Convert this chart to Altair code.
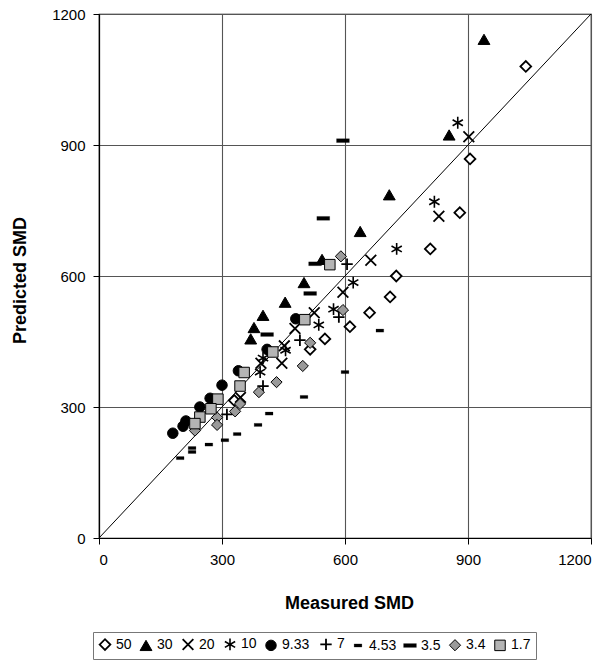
import altair as alt
import pandas as pd

series_names = ["50", "30", "20", "10", "9.33", "7", "4.53", "3.5", "3.4", "1.7"]

s50_x = [1041, 905, 880, 808, 725, 710, 660, 612, 551, 515, 330]
s50_y = [1080, 868, 745, 662, 600, 552, 516, 484, 456, 432, 315]
s30_x = [939, 854, 708, 637, 544, 500, 454, 400, 378, 370]
s30_y = [1142, 923, 786, 702, 638, 585, 540, 510, 482, 456]
s20_x = [902, 829, 663, 595, 525, 478, 452, 446, 395, 345]
s20_y = [919, 737, 636, 563, 516, 480, 440, 400, 400, 322]
s10_x = [875, 818, 726, 620, 572, 536, 455, 400, 393]
s10_y = [951, 770, 662, 585, 524, 488, 430, 412, 380]
s933_x = [180, 205, 212, 246, 271, 300, 340, 410, 480]
s933_y = [240, 256, 268, 300, 320, 350, 383, 432, 502]
s7_x = [605, 585, 490, 400, 312]
s7_y = [627, 506, 453, 348, 283]
s453_x = [198, 227, 227, 268, 307, 337, 388, 415, 500, 600, 685]
s453_y = [183, 197, 206, 214, 224, 238, 259, 285, 323, 380, 475]
s35_x = [595, 547, 527, 515, 410]
s35_y = [910, 732, 628, 560, 466]
s34_x = [590, 595, 515, 497, 433, 390, 344, 332, 288, 288, 234]
s34_y = [645, 522, 447, 394, 357, 334, 307, 290, 276, 259, 246]
s17_x = [563, 502, 424, 354, 344, 290, 273, 246, 234]
s17_y = [626, 500, 426, 379, 348, 318, 296, 277, 262]

ticks = [0, 300, 600, 900, 1200]

all_x = [s50_x, s30_x, s20_x, s10_x, s933_x, s7_x, s453_x, s35_x, s34_x, s17_x]
all_y = [s50_y, s30_y, s20_y, s10_y, s933_y, s7_y, s453_y, s35_y, s34_y, s17_y]

rows = []
for name, xs, ys in zip(series_names, all_x, all_y):
    for a, b in zip(xs, ys):
        rows.append({"series": name, "measured": a, "predicted": b})
df = pd.DataFrame(rows)
df["order"] = df["series"].map({n: i for i, n in enumerate(series_names)})

shape_range = [
    "diamond",
    "triangle-up",
    "M-1,-1L1,1M-1,1L1,-1",
    "M0,-1L0,1M-0.87,-0.5L0.87,0.5M-0.87,0.5L0.87,-0.5",
    "circle",
    "M-1,0L1,0M0,-1L0,1",
    "M-1,-0.4L1,-0.4L1,0.4L-1,0.4Z",
    "M-1,-0.3L1,-0.3L1,0.3L-1,0.3Z",
    "diamond",
    "square",
]
fill_range = ["white", "black", "none", "none", "black", "none", "black", "black", "#9a9a9a", "#b4b4b4"]
stroke_range = ["black"] * 10
size_range = [115, 140, 115, 140, 110, 130, 60, 165, 125, 110]
sw_range = [1.8, 1, 1.8, 1.6, 1, 1.8, 0.2, 0.2, 1, 1]

legend = alt.Legend(
    title=None,
    orient="none",
    legendX=-6,
    legendY=618,
    direction="horizontal",
    strokeColor="#777",
    padding=5,
    labelFont="Liberation Sans",
    labelFontSize=14,
    labelColor="black",
    labelOffset=4,
    columnPadding=6,
    symbolOpacity=1,
)

base_x = alt.X("measured:Q", scale=alt.Scale(domain=[0, 1200], nice=False),
               axis=alt.Axis(values=ticks, format="d", title="Measured SMD", titleX=250, titleY=70,
                             titleBaseline="alphabetic"))
base_y = alt.Y("predicted:Q", scale=alt.Scale(domain=[0, 1200], nice=False),
               axis=alt.Axis(values=ticks, format="d", title="Predicted SMD", titleX=-79, titleY=266,
                             titleBaseline="middle", titleAngle=270))

points = alt.Chart(df).mark_point(opacity=1).encode(
    x=base_x,
    y=base_y,
    shape=alt.Shape("series:N", scale=alt.Scale(domain=series_names, range=shape_range), legend=legend),
    fill=alt.Fill("series:N", scale=alt.Scale(domain=series_names, range=fill_range), legend=legend),
    stroke=alt.Stroke("series:N", scale=alt.Scale(domain=series_names, range=stroke_range), legend=legend),
    size=alt.Size("series:N", scale=alt.Scale(type="ordinal", domain=series_names, range=size_range), legend=legend),
    strokeWidth=alt.StrokeWidth("series:N", scale=alt.Scale(type="ordinal", domain=series_names, range=sw_range), legend=legend),
    order=alt.Order("order:Q"),
)

diag_df = pd.DataFrame({"measured": [0, 1200], "predicted": [0, 1200]})
diag = alt.Chart(diag_df).mark_line(color="black", strokeWidth=1).encode(
    x=alt.X("measured:Q"), y=alt.Y("predicted:Q")
)

chart = alt.layer(diag, points).properties(
    width=492, height=524,
    background="white",
    autosize=alt.AutoSizeParams(type="none"),
    padding={"left": 99, "top": 14, "right": 22, "bottom": 133},
).configure_view(
    stroke="black", strokeWidth=1.2
).configure_axis(
    grid=True,
    gridColor="#555",
    gridWidth=1.1,
    gridOpacity=1,
    domainColor="black",
    domainWidth=1.2,
    tickColor="black",
    tickSize=6,
    labelFont="Liberation Sans",
    labelFontSize=15,
    labelColor="black",
    labelPadding=8,
    titleFont="Liberation Sans",
    titleFontSize=18,
    titleFontWeight="bold",
    titleColor="black",
)

chart.save("out.html", embed_options={"renderer": "svg", "actions": False})
